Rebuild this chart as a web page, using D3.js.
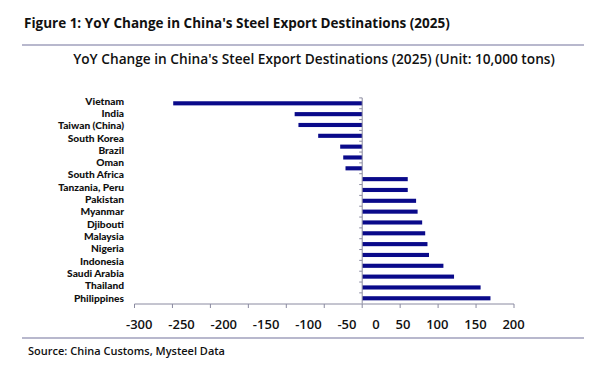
<!DOCTYPE html>
<html>
<head>
<meta charset="utf-8">
<script src="https://cdn.jsdelivr.net/npm/d3@7"></script>
<style>
  body { margin: 0; background: #fff; }
  svg { display: block; font-family: "Open Sans", sans-serif; }
  .axis line { stroke: #8a8aa0; stroke-width: 1; }
  text { fill: #111; }
</style>
</head>
<body>
<svg id="chart" width="600" height="375"></svg>
<script>
// bar categories (19 bars, top to bottom)
const countries = ['Vietnam', 'India', 'Taiwan (China)', 'South Korea', 'Brazil', 'Oman', 'South Africa',
  'Tanzania', 'Peru', 'Pakistan', 'Myanmar', 'Djibouti', 'Malaysia', 'Nigeria', 'Indonesia',
  'Saudi Arabia', 'Thailand', 'Philippines', 'Philippines (2)'];
const changes = [-249, -89, -84, -58, -29, -25, -22,
  60, 60, 71, 73, 79, 83, 86, 88, 107, 121, 156, 169];
// the printed label column (17 labels)
const labels = ['Vietnam', 'India', 'Taiwan (China)', 'South Korea', 'Brazil', 'Oman', 'South Africa',
  'Tanzania, Peru', 'Pakistan', 'Myanmar', 'Djibouti', 'Malaysia', 'Nigeria', 'Indonesia',
  'Saudi Arabia', 'Thailand', 'Philippines'];
const xTicks = [-300, -250, -200, -150, -100, -50, 0, 50, 100, 150, 200];

const svg = d3.select('#chart');

// header
svg.append('text')
  .attr('x', 24).attr('y', 28)
  .attr('font-size', 13.5).attr('font-weight', 700)
  .text("Figure 1: YoY Change in China's Steel Export Destinations (2025)");
svg.append('line')
  .attr('x1', 22).attr('x2', 584).attr('y1', 45).attr('y2', 45)
  .attr('stroke', '#a0a0bc').attr('stroke-width', 1.5);
svg.append('text')
  .attr('x', 314).attr('y', 64)
  .attr('text-anchor', 'middle')
  .attr('font-size', 13.7).attr('font-weight', 600)
  .text("YoY Change in China's Steel Export Destinations (2025) (Unit: 10,000 tons)");

const x = d3.scaleLinear().domain([-300, 200]).range([134.5, 514]);
const y = d3.scaleBand().domain(countries).range([97.9, 303.7]).paddingInner(0.62).paddingOuter(0.31);

// bars
svg.append('g').selectAll('rect')
  .data(countries)
  .join('rect')
  .attr('x', (d, i) => x(Math.min(0, changes[i])))
  .attr('width', (d, i) => Math.abs(x(changes[i]) - x(0)))
  .attr('y', d => y(d))
  .attr('height', y.bandwidth())
  .attr('fill', '#0a0a8a');

// vertical axis at zero with ticks on band boundaries
const vAxis = svg.append('g').attr('class', 'axis');
vAxis.append('line')
  .attr('x1', x(0)).attr('x2', x(0))
  .attr('y1', 97.9).attr('y2', 303.7);
vAxis.selectAll('line.t')
  .data(countries)
  .join('line').attr('class', 't')
  .attr('x1', x(0) - 3).attr('x2', x(0))
  .attr('y1', d => y(d) - y.step() * y.paddingInner() / 2)
  .attr('y2', d => y(d) - y.step() * y.paddingInner() / 2);

// horizontal axis
const hAxis = svg.append('g').attr('class', 'axis');
hAxis.append('line')
  .attr('x1', x(-300)).attr('x2', x(200))
  .attr('y1', 304).attr('y2', 304);
hAxis.selectAll('line.t')
  .data(xTicks)
  .join('line').attr('class', 't')
  .attr('x1', d => x(d)).attr('x2', d => x(d))
  .attr('y1', 304).attr('y2', 308);

// tick labels flow left to right with a fixed gap, like the original
let cursor = x(-300) - 8.5;
xTicks.forEach(v => {
  const t = svg.append('text')
    .attr('y', 329)
    .attr('font-size', 13).attr('font-weight', 600)
    .text(v);
  const w = t.node().getComputedTextLength();
  t.attr('x', cursor);
  cursor += w + 15.8;
});

// category label column
const ly = d3.scalePoint().domain(labels).range([101, 298]);
svg.append('g').selectAll('text')
  .data(labels)
  .join('text')
  .attr('x', 124)
  .attr('y', d => ly(d))
  .attr('dy', '0.35em')
  .attr('text-anchor', 'end')
  .attr('font-family', 'Lato, sans-serif')
  .attr('font-size', 10.2).attr('font-weight', 900)
  .text(d => d);

// footer
svg.append('line')
  .attr('x1', 22).attr('x2', 584).attr('y1', 338).attr('y2', 338)
  .attr('stroke', '#a0a0bc').attr('stroke-width', 1.5);
svg.append('text')
  .attr('x', 28).attr('y', 355)
  .attr('font-size', 11).attr('font-weight', 600)
  .text('Source: China Customs, Mysteel Data');
</script>
</body>
</html>
